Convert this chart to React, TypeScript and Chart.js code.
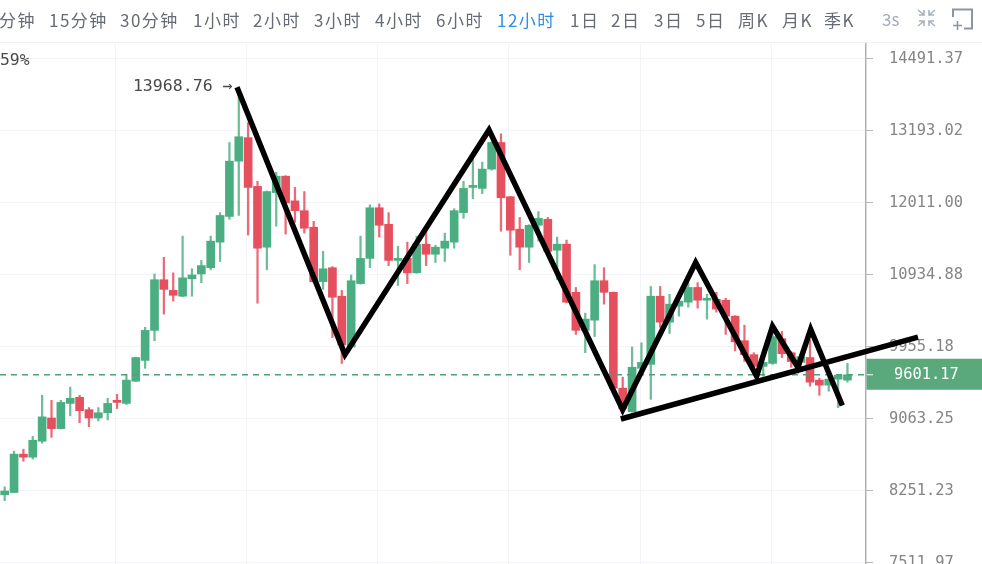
import React, { useEffect, useRef } from "react";
import { Chart, registerables } from "chart.js";

Chart.register(...registerables);

// ---- data ----
const opens = [8210,8235,8657,8623,8804,9075,8950,9249,9323,9174,9075,9137,9286,9249,9521,9782,10173,10867,10717,10636,10881,10950,11039,11413,11802,12684,13078,12273,11338,12175,12438,12044,11891,11637,10840,11039,10636,9955,10813,11174,11936,11682,11144,11174,10965,11383,11234,11323,11413,11861,12257,12241,12553,12996,12109,11607,11338,11667,11757,11293,11383,10690,10173,10309,10853,10690,9435,9150,9682,9732,10636,10282,10499,10554,10758,10581,10595,10581,10363,10037,9856,9707,9744,10064,9881,9757,9819,9534,9472,9546,9534];
const closes = [8251,8657,8623,8815,9088,8950,9261,9311,9162,9075,9137,9249,9261,9534,9819,10173,10867,10731,10649,10894,10935,11069,11428,11817,12684,13094,12257,11323,12191,12438,12011,11891,11622,10840,11024,10622,9982,10853,11174,11936,11667,11144,11174,10965,11383,11234,11338,11428,11891,12241,12273,12553,12996,12093,11592,11338,11667,11772,11278,11383,10554,10173,10323,10853,10690,9435,9187,9695,9757,10636,10282,10527,10568,10758,10581,10595,10459,10363,10023,9856,9707,9757,10091,9868,9769,9831,9509,9472,9546,9596,9601.17];
const highs = [8296,8691,8713,8860,9348,9286,9286,9447,9348,9199,9199,9311,9360,9608,9825,10214,10950,11189,10965,11503,11024,11144,11503,11861,12996,13968.76,13337,12356,12200,12503,12445,12257,12191,11727,11278,11054,10717,10935,11503,11981,11996,11861,11353,11413,11503,11577,11368,11548,11921,12356,12750,12668,13010,13144,12115,11787,11675,11876,11787,11488,11443,10758,10404,11084,11039,10695,9571,9955,10010,10772,10772,10663,10636,10826,10826,10663,10690,10608,10370,10241,9881,9794,10159,10159,9893,9856,10050,9559,9555,9608,9744];
const lows = [8148,8235,8578,8601,8781,8849,8945,9100,9018,8973,9040,9052,9187,9236,9515,9682,10037,10391,10568,10630,10636,10826,11009,11129,11757,11817,11518,10540,11009,11652,11533,11712,11548,10826,10731,10078,9744,9950,10805,11039,11488,11069,10785,10813,10960,11069,11114,11129,11323,11772,12076,12159,12537,11577,11219,11009,11114,11428,11234,10867,10545,10119,9881,10091,10527,9422,9125,9145,9675,9298,10214,10132,10363,10486,10472,10323,10418,10119,9905,9769,9645,9583,9732,9819,9695,9670,9459,9348,9397,9199,9509];

const handX = [24.81,36.34,51.72,65.99,73.79,80.3,82.0,84.7,86.07,89.45];
const handY = [13968,9856,13211,9174,11114,9583,10228,9695,10187,9224];
const trendX = [65.8,97.53];
const trendY = [9063,10085];

const lastPrice = 9601.17;
const highPrice = 13968.76;
const highIndex = 25;
const axisTicks = [14491.37,13193.02,12011.0,10934.88,9955.18,9063.25,8251.23,7511.97];
const timeGrid = [11.85,25.85,39.85,53.85,67.85,81.85];
const periods = ["分钟","15分钟","30分钟","1小时","2小时","3小时","4小时","6小时","12小时","1日","2日","3日","5日","周K","月K","季K"];
const activePeriod = "12小时";
const speedLabel = "3s";
const changeLabel = "59%";

// ---- layout / style ----
const periodLeft = [-1,49,120,193,253,314,375,436,497,570,611,654,696,738,782,824];
const GREEN = "#4aae82";
const RED = "#e64f5e";
const GREEN_WICK = "#6dbd98";
const RED_WICK = "#ea6b78";
const GRID = "#f2f4f9";
const MONO = '"DejaVu Sans Mono", monospace';

const overlayPlugin = {
  id: "overlay",
  afterDraw(chart: any) {
    const { ctx } = chart;
    const y = chart.scales.y;
    const x = chart.scales.x;
    const py = y.getPixelForValue(lastPrice);
    const left = chart.chartArea.right;
    ctx.save();
    ctx.fillStyle = "#5aa97c";
    ctx.fillRect(left + 0.5, py - 16, chart.width - left, 31);
    ctx.strokeStyle = "#ffffff";
    ctx.lineWidth = 1;
    ctx.beginPath();
    ctx.moveTo(left + 1, py);
    ctx.lineTo(left + 7, py);
    ctx.stroke();
    ctx.fillStyle = "#ffffff";
    ctx.font = `15.4px ${MONO}`;
    ctx.textBaseline = "middle";
    ctx.textAlign = "left";
    ctx.fillText(lastPrice.toFixed(2), 894, py);
    ctx.fillStyle = "#4a4a4a";
    ctx.font = `16.6px ${MONO}`;
    ctx.textAlign = "right";
    ctx.fillText(`${highPrice.toFixed(2)} →`, x.getPixelForValue(highIndex) - 6, y.getPixelForValue(highPrice));
    ctx.restore();
  },
};

export default function App() {
  const ref = useRef<HTMLCanvasElement>(null);

  useEffect(() => {
    document.body.style.margin = "0";
    document.body.style.overflow = "hidden";
    const idx = opens.map((_, i) => i);
    const isUp = (i: number) => closes[i] >= opens[i];
    const chart = new Chart(ref.current as HTMLCanvasElement, {
      type: "bar",
      data: {
        datasets: [
          {
            type: "line",
            data: handX.map((x, i) => ({ x, y: handY[i] })),
            borderColor: "#000000",
            borderWidth: 5.5,
            pointRadius: 0,
            tension: 0,
            clip: false,
            order: 0,
            borderJoinStyle: "miter",
          },
          {
            type: "line",
            data: trendX.map((x, i) => ({ x, y: trendY[i] })),
            borderColor: "#000000",
            borderWidth: 5.5,
            pointRadius: 0,
            clip: false,
            order: 0,
          },
          {
            type: "line",
            data: [
              { x: -0.5, y: lastPrice },
              { x: 91.98, y: lastPrice },
            ],
            borderColor: "#4f9f78",
            borderWidth: 1.5,
            borderDash: [6, 5],
            pointRadius: 0,
            order: 1,
          },
          {
            type: "bar",
            data: idx.map((i) => ({ x: i, y: [opens[i], closes[i]] })),
            backgroundColor: idx.map((i) => (isUp(i) ? GREEN : RED)),
            barThickness: 8,
            minBarLength: 2,
            borderWidth: 0,
            grouped: false,
            order: 2,
          },
          {
            type: "bar",
            data: idx.map((i) => ({ x: i, y: [lows[i], highs[i]] })),
            backgroundColor: idx.map((i) => (isUp(i) ? GREEN_WICK : RED_WICK)),
            barThickness: 1.6,
            borderWidth: 0,
            grouped: false,
            order: 3,
          },
        ],
      } as any,
      options: {
        animation: false,
        responsive: false,
        devicePixelRatio: 1,
        layout: { autoPadding: false, padding: { top: 43, left: 0, right: 0, bottom: 0 } },
        plugins: { legend: { display: false }, tooltip: { enabled: false } },
        scales: {
          x: {
            type: "linear",
            min: -0.5,
            max: 91.98,
            offset: false,
            grid: { color: GRID, lineWidth: 1, drawTicks: false, offset: false },
            border: { display: false },
            ticks: { display: false },
            afterBuildTicks: (s: any) => {
              s.ticks = timeGrid.map((value) => ({ value }));
            },
            afterFit: (s: any) => {
              s.height = 0;
            },
          },
          y: {
            type: "logarithmic",
            position: "right",
            min: 7502,
            max: 14796,
            grid: { color: GRID, lineWidth: 1, tickLength: 7, tickColor: "#b5b5b5" },
            border: { display: true, color: "#b0b0b0", width: 1.5 },
            ticks: {
              autoSkip: false,
              padding: 16,
              color: "#858585",
              font: { family: "DejaVu Sans Mono", size: 15.4 },
              callback: (v: any) => Number(v).toFixed(2),
            },
            afterBuildTicks: (s: any) => {
              s.ticks = axisTicks.map((value) => ({ value }));
            },
            afterFit: (s: any) => {
              s.width = 116;
              s.paddingTop = 0;
              s.paddingBottom = 0;
            },
          },
        },
      } as any,
      plugins: [overlayPlugin],
    });
    return () => chart.destroy();
  }, []);

  return (
    <div style={{ position: "relative", width: 982, height: 564, overflow: "hidden", background: "#fff" }}>
      <canvas ref={ref} width={982} height={564} style={{ position: "absolute", left: 0, top: 0, display: "block" }} />
      <div style={{ position: "absolute", left: 0, top: 42, width: 982, height: 1, background: "#f0f1f4" }} />
      {periods.map((p, i) => (
        <span
          key={p}
          style={{
            position: "absolute",
            left: periodLeft[i],
            top: 7,
            font: '17px "Noto Sans CJK SC", sans-serif',
            letterSpacing: 1.5,
            lineHeight: "26px",
            whiteSpace: "nowrap",
            color: p === activePeriod ? "#2f8fe6" : "#666b75",
          }}
        >
          {p}
        </span>
      ))}
      <span style={{ position: "absolute", left: 882, top: 6, font: '17px "Noto Sans CJK SC", sans-serif', lineHeight: "26px", color: "#a3acbb" }}>
        {speedLabel}
      </span>
      <span style={{ position: "absolute", left: 0, top: 50, font: `16.4px ${MONO}`, lineHeight: "20px", color: "#4a4a4a" }}>
        {changeLabel}
      </span>
      <svg width={70} height={34} viewBox="905 0 70 34" style={{ position: "absolute", left: 905, top: 0 }} fill="none">
        <g stroke="#a9b1bd" strokeWidth={1.6}>
          <path d="M918 10l6 5M924 10v5h-5" />
          <path d="M935 10l-6 5M929 10v5h5" />
          <path d="M918 26l6-5M924 26v-5h-5" />
          <path d="M935 26l-6-5M929 26v-5h5" />
        </g>
        <path d="M953 17V9.5h19v19h-8" stroke="#8b95a3" strokeWidth={2} />
        <path d="M957.5 21v9M953 25.5h9" stroke="#8b95a3" strokeWidth={1.6} />
      </svg>
    </div>
  );
}
